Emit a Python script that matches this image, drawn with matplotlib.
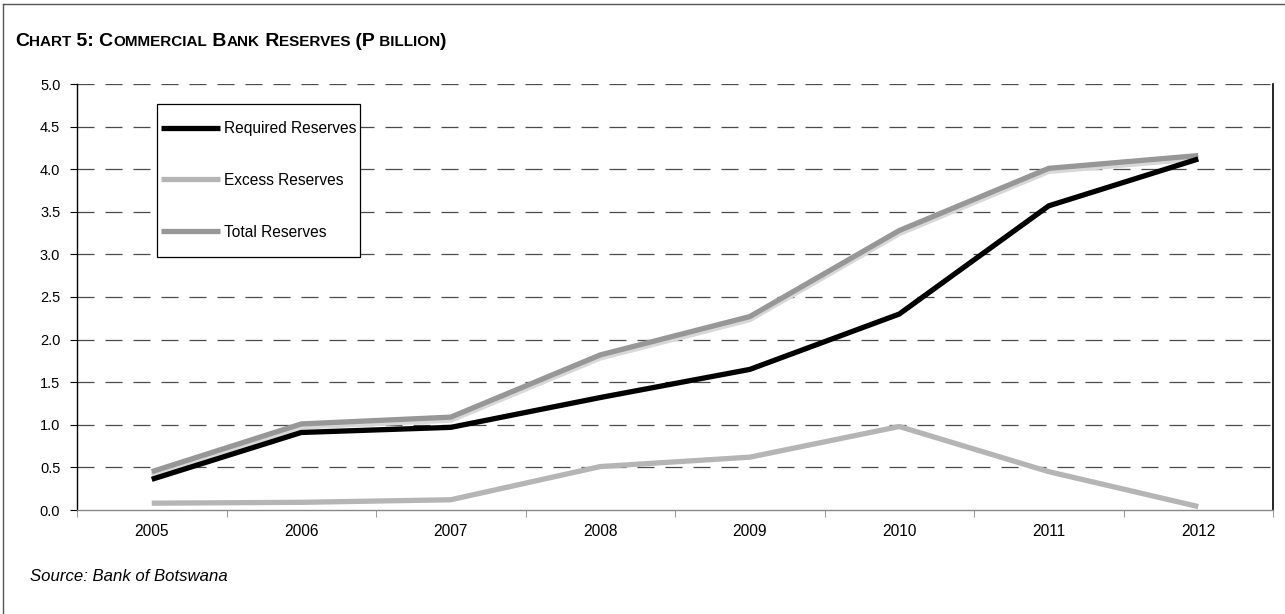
import matplotlib
matplotlib.use("Agg")
import matplotlib.pyplot as plt
import matplotlib.patheffects as pe
from matplotlib.patches import Rectangle
from matplotlib.lines import Line2D

plt.rcParams['font.family'] = ['Liberation Sans', 'DejaVu Sans']

years = ['2005', '2006', '2007', '2008', '2009', '2010', '2011', '2012']
required_reserves = [0.36, 0.91, 0.97, 1.32, 1.65, 2.30, 3.57, 4.12]
excess_reserves = [0.08, 0.09, 0.12, 0.51, 0.62, 0.98, 0.45, 0.04]
total_reserves = [0.45, 1.01, 1.09, 1.82, 2.27, 3.28, 4.01, 4.16]
y_ticks = [0.0, 0.5, 1.0, 1.5, 2.0, 2.5, 3.0, 3.5, 4.0, 4.5, 5.0]

W, H = 1285, 614
fig = plt.figure(figsize=(W / 100, H / 100), dpi=100)
ax = fig.add_axes([77 / W, 1 - 510 / H, (1273 - 77) / W, (510 - 84) / H])

x = list(range(len(years)))

# grid
for v in y_ticks[1:]:
    ax.axhline(v, color='#4a4a4a', lw=0.9, linestyle=(0, (13.6, 8.8)), zorder=1)

ax.plot(x, total_reserves, color='#979797', lw=3.8, solid_capstyle='butt',
        label='Total Reserves', zorder=3,
        path_effects=[pe.SimpleLineShadow(offset=(0, -2.2), shadow_color='#d8d8d8', alpha=1.0),
                      pe.Normal()])
ax.plot(x, excess_reserves, color='#b5b5b5', lw=3.8, solid_capstyle='butt',
        label='Excess Reserves', zorder=3)
ax.plot(x, required_reserves, color='#000000', lw=3.8, solid_capstyle='butt',
        label='Required Reserves', zorder=4)

ax.set_xlim(-0.5, len(years) - 0.5)
ax.set_ylim(0, 5.0)
ax.set_yticks(y_ticks)
ax.set_yticklabels([f'{v:.1f}' for v in y_ticks], fontsize=10.5)
ax.set_xticks(x)
ax.set_xticklabels(years, fontsize=11.2)
ax.set_xticks([i - 0.5 for i in range(len(years) + 1)], minor=True)
ax.tick_params(axis='x', which='major', length=0, pad=10)
ax.tick_params(axis='x', which='minor', length=5, color='#888888', direction='out')
ax.tick_params(axis='y', length=5, width=0.8, color='#000000', pad=7)

ax.spines['top'].set_visible(False)
ax.spines['left'].set_color('#000000')
ax.spines['left'].set_linewidth(1.0)
ax.spines['right'].set_color('#000000')
ax.spines['right'].set_linewidth(1.2)
ax.spines['bottom'].set_color('#888888')
ax.spines['bottom'].set_linewidth(1.0)

# legend box
lx0, lx1, ly0, ly1 = 157, 360, 104, 257
ax0, ax1w = 77, 1273 - 77
ay1, ah = 510, 510 - 84
box = Rectangle(((lx0 - ax0) / ax1w, (ay1 - ly1) / ah), (lx1 - lx0) / ax1w, (ly1 - ly0) / ah,
                transform=ax.transAxes, facecolor='white', edgecolor='#000000', lw=0.9, zorder=5)
ax.add_patch(box)
handles, labels = ax.get_legend_handles_labels()
order = [2, 1, 0]
leg = ax.legend([handles[i] for i in order], [labels[i] for i in order],
                loc='upper left', bbox_to_anchor=((lx0 + 1 - ax0) / ax1w, (ay1 - ly0 - 14) / ah),
                frameon=False, fontsize=11.2, handlelength=3.8, handletextpad=0.22,
                labelspacing=2.36, borderpad=0.2, borderaxespad=0)
leg.set_zorder(6)
for h in leg.legend_handles:
    h.set_path_effects([])
    h.set_linewidth(3.8)

# title in small caps
fig.canvas.draw()
renderer = fig.canvas.get_renderer()
pieces = [('C', 14), ('HART', 11), (' 5: C', 14), ('OMMERCIAL', 11), (' B', 14),
          ('ANK', 11), (' R', 14), ('ESERVES', 11), (' (P', 14), (' BILLION', 11), (')', 14)]
xpos = 15
for txt, size in pieces:
    t = fig.text(xpos / W, 1 - 46 / H, txt, fontsize=size, fontweight='bold',
                 ha='left', va='baseline', color='#000000')
    bb = t.get_window_extent(renderer=renderer)
    xpos += bb.width

fig.text(30 / W, 1 - 581 / H, 'Source: Bank of Botswana', fontsize=12.1, style='italic',
         ha='left', va='baseline', color='#000000')

# outer frame (top and left edges)
fig.add_artist(Line2D([3 / W, 1.0], [1 - 4 / H, 1 - 4 / H], transform=fig.transFigure,
                      color='#555555', lw=1.0))
fig.add_artist(Line2D([3 / W, 3 / W], [0.0, 1 - 4 / H], transform=fig.transFigure,
                      color='#555555', lw=1.0))

fig.savefig('out.png', dpi=100)
